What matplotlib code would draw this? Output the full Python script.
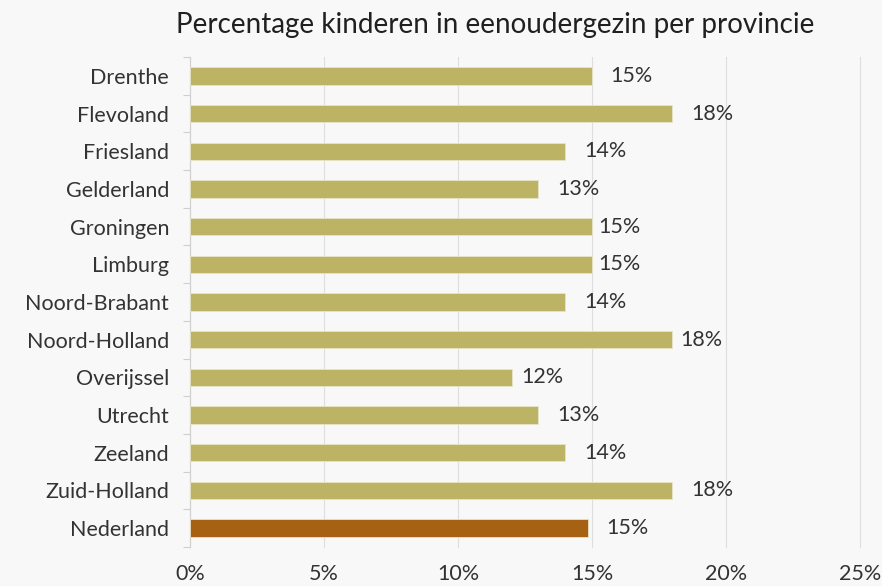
import numpy as np
import matplotlib.pyplot as plt
from matplotlib.ticker import FixedLocator

# data
provincies = ['Drenthe', 'Flevoland', 'Friesland', 'Gelderland', 'Groningen', 'Limburg',
              'Noord-Brabant', 'Noord-Holland', 'Overijssel', 'Utrecht', 'Zeeland',
              'Zuid-Holland', 'Nederland']
percentages = [15.0, 18.0, 14.0, 13.0, 15.0, 15.0, 14.0, 18.0, 12.0, 13.0, 14.0, 18.0, 14.85]
labels = ['15%', '18%', '14%', '13%', '15%', '15%', '14%', '18%', '12%', '13%', '14%', '18%', '15%']
x_ticks = [0, 5, 10, 15, 20, 25]

# label gaps (in %-units) as placed in the original
label_gap = [0.7, 0.7, 0.7, 0.7, 0.25, 0.25, 0.7, 0.3, 0.35, 0.7, 0.7, 0.7, 0.7]

bg = '#f8f8f8'
plt.rcParams['font.family'] = ['Lato', 'DejaVu Sans']

fig = plt.figure(figsize=(8.82, 5.86), dpi=100, facecolor=bg)
ax = fig.add_axes([0.2154, 0.0666, 0.7596, 0.836])
ax.set_facecolor(bg)

y = np.arange(len(provincies))
kleuren = ['#bdb365'] * (len(provincies) - 1) + ['#a66212']
ax.barh(y, percentages, height=0.46, color=kleuren, edgecolor='#e8e4c8', linewidth=0.6, zorder=3)

for yi, v, lab, g in zip(y, percentages, labels, label_gap):
    ax.text(v + g, yi, lab, va='center', ha='left', fontsize=15.5, color='#333333')

ax.set_xlim(0, 25)
ax.set_ylim(len(provincies) - 0.5, -0.5)
ax.set_xticks(x_ticks)
ax.set_xticklabels([f'{t}%' for t in x_ticks])
ax.set_yticks(y)
ax.set_yticklabels(provincies)
ax.yaxis.set_minor_locator(FixedLocator(np.arange(-0.5, len(provincies), 1)))
ax.tick_params(axis='y', which='major', length=0, pad=15, labelsize=15.5, labelcolor='#333333')
ax.tick_params(axis='y', which='minor', length=5, color='#d0d0d0', width=0.8)
ax.tick_params(axis='x', length=0, pad=12, labelsize=15.5, labelcolor='#333333')

ax.grid(axis='x', color='#dedede', linewidth=0.8, zorder=0)
for gl in ax.get_xgridlines():
    gl.set_clip_on(False)
for s in ['top', 'right', 'bottom']:
    ax.spines[s].set_visible(False)
ax.spines['left'].set_color('#d0d0d0')
ax.spines['left'].set_linewidth(0.8)

fig.text(0.561, 0.957, 'Percentage kinderen in eenoudergezin per provincie',
         ha='center', va='center', fontsize=20, color='#202020')

fig.savefig('out.png', dpi=100, facecolor=bg)
